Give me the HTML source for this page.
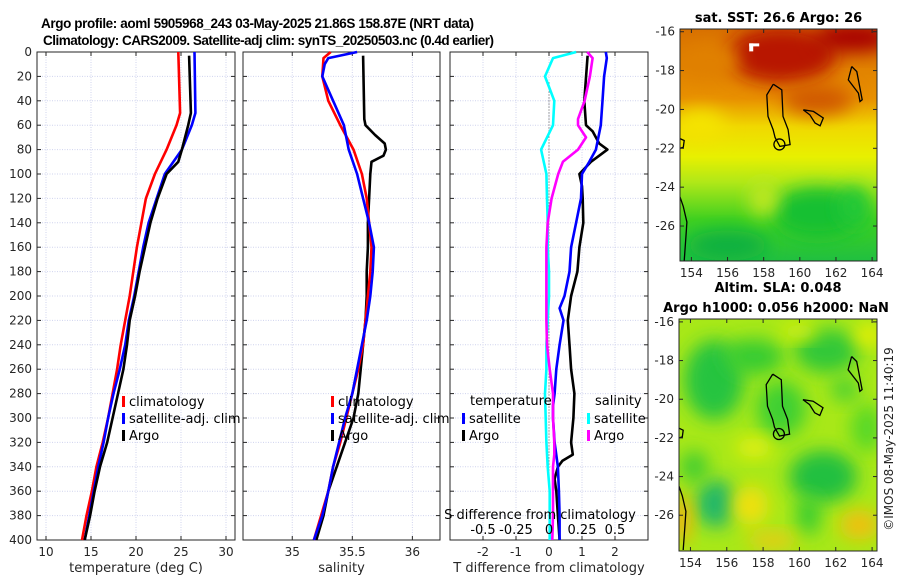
<!DOCTYPE html>
<html><head><meta charset="utf-8"><style>
body{margin:0;background:#fff}
svg{display:block;font-family:"DejaVu Sans","Liberation Sans",sans-serif}
.tk{font-size:12px;fill:#262626}
.tt{font-size:13px;font-weight:bold;fill:#000}
.ttl{font-size:13.5px;font-weight:bold;fill:#000;font-family:"Liberation Sans",sans-serif}
.lg{font-size:13px;fill:#000}
</style></head><body>
<svg id="fig" width="900" height="580" viewBox="0 0 900 580" xmlns="http://www.w3.org/2000/svg">
<defs>
<filter id="bl" x="-50%" y="-50%" width="200%" height="200%"><feGaussianBlur stdDeviation="9"/></filter>
<clipPath id="c1"><rect x="680" y="29" width="197" height="232"/></clipPath>
<clipPath id="c2"><rect x="679" y="319" width="198" height="232"/></clipPath>
<linearGradient id="sstg" x1="0" y1="0" x2="0" y2="1">
<stop offset="0" stop-color="#d87000"/><stop offset="0.3" stop-color="#e89000"/><stop offset="0.42" stop-color="#f0d800"/><stop offset="0.55" stop-color="#e8f000"/><stop offset="0.66" stop-color="#b0e818"/><stop offset="0.82" stop-color="#40d020"/><stop offset="1" stop-color="#20c040"/></linearGradient>
</defs>
<text class="ttl" x="41" y="28" textLength="433" lengthAdjust="spacing">Argo profile: aoml 5905968_243 03-May-2025 21.86S 158.87E (NRT data)</text>
<text class="ttl" x="43" y="45" textLength="451" lengthAdjust="spacing">Climatology: CARS2009. Satellite-adj clim: synTS_20250503.nc (0.4d earlier)</text>
<g id="panels"></g>
<g id="maps"></g>
<text class="tk" transform="translate(893,439) rotate(-90)" text-anchor="middle">©IMOS 08-May-2025 11:40:19</text>
</svg>
<script>
// ---- Panel 1: temperature ----
const climTDepth=[0,50,60,80,100,120,140,160,180,200,220,240,260,280,300,320,340,360,380,400];
const climT=[24.7,24.9,24.5,23.4,22.1,21.1,20.6,20.1,19.7,19.3,18.8,18.3,17.9,17.4,16.9,16.3,15.6,15.1,14.5,14.0];
const satT=[26.5,26.6,26.2,25.1,23.2,22.3,21.4,20.8,20.3,19.8,19.2,18.8,18.2,17.5,16.9,16.4,15.8,15.3,14.8,14.3];
const argoTDepth=[3,50,60,80,90,100,120,140,160,180,200,220,240,260,280,300,320,340,360,380,400];
const argoT=[25.9,26.1,25.8,25.1,24.7,23.4,22.4,21.6,21.0,20.4,19.9,19.3,19.0,18.6,18.0,17.4,16.8,16.0,15.4,14.9,14.3];
const tTicks=[10,15,20,25,30];
// ---- Panel 2: salinity ----
const climSDepth=[0,5,20,40,60,80,100,120,140,160,180,200,220,240,260,280,300,320,340,360,380,400];
const climS=[35.32,35.26,35.25,35.30,35.40,35.51,35.58,35.62,35.64,35.66,35.65,35.63,35.61,35.59,35.55,35.50,35.45,35.40,35.34,35.30,35.24,35.18];
const satSDepth=[0,5,10,20,40,60,80,100,120,140,160,180,200,220,240,260,280,300,320,340,360,380,400];
const satS=[35.54,35.30,35.27,35.25,35.34,35.43,35.47,35.54,35.59,35.64,35.68,35.67,35.65,35.62,35.58,35.54,35.50,35.44,35.39,35.34,35.30,35.25,35.18];
const argoSDepth=[3,55,60,68,75,80,85,90,100,140,160,180,200,220,240,260,280,300,320,340,360,380,400];
const argoS=[35.59,35.60,35.61,35.69,35.77,35.78,35.76,35.66,35.65,35.63,35.63,35.62,35.62,35.61,35.59,35.57,35.55,35.51,35.44,35.37,35.30,35.26,35.20];
const sTicks=[35,35.5,36];
// ---- Panel 3: differences ----
const sSatDDepth=[0,5,20,40,60,80,100,120,140,160,180,200,220,240,260,280,300,320,340,360,380,400];
const sSatD=[0.206,0.03,-0.03,0.04,0.03,-0.06,-0.02,-0.015,-0.01,-0.01,0,0,-0.01,-0.02,-0.02,-0.03,-0.025,-0.02,-0.01,0.005,0.005,0.005];
const sArgoDDepth=[0,5,20,40,55,60,70,80,90,100,120,140,160,180,200,220,240,260,280,300,320,330,340,360,380,400];
const sArgoD=[0.29,0.33,0.31,0.27,0.22,0.22,0.28,0.22,0.105,0.07,0.02,-0.01,-0.02,-0.02,-0.02,-0.02,-0.015,0.005,0.03,0.03,0.04,0.04,0.03,0.03,0.03,0.025];
const tSatDDepth=[0,5,20,40,60,80,90,100,120,140,160,180,200,210,220,240,260,280,290,300,320,340,360,380,400];
const tSatD=[1.72,1.75,1.67,1.62,1.57,1.42,1.22,1.0,0.97,0.82,0.67,0.62,0.47,0.32,0.44,0.32,0.22,0.17,0.12,0.12,0.17,0.27,0.3,0.32,0.32];
const tArgoDDepth=[3,40,60,65,75,80,85,90,100,110,120,140,160,180,200,220,240,260,280,300,320,330,335,340,350,360,380,400];
const tArgoD=[1.17,1.07,1.12,1.32,1.52,1.77,1.52,1.27,0.92,1.0,1.02,1.04,0.92,0.86,0.67,0.57,0.62,0.67,0.77,0.74,0.67,0.72,0.41,0.27,0.17,0.22,0.27,0.32];
const tdTicks=[-2,-1,0,1,2];
const sdTicks=[-0.5,-0.25,0,0.25,0.5];
const sdTickLabels=["-0.5","-0.25","0","0.25","0.5"];
const depthTicks=[0,20,40,60,80,100,120,140,160,180,200,220,240,260,280,300,320,340,360,380,400];

const NS="http://www.w3.org/2000/svg";
function mk(tag,at,parent){const e=document.createElementNS(NS,tag);for(const k in at)e.setAttribute(k,at[k]);parent.appendChild(e);return e;}
const Y0=52,Y1=540;
const yD=d=>Y0+(Y1-Y0)*d/400;
const P=document.getElementById('panels');
function lin(d0,d1,r0,r1){return v=>r0+(v-d0)*(r1-r0)/(d1-d0);}

function panel(name,x0,x1,xs,ticks,tickLabels,showDepth,xlabel){
  const g=mk('g',{},P);
  
  
  ticks.forEach(t=>{const l=mk('line',{x1:xs(t),x2:xs(t),y1:Y0,y2:Y1,stroke:'#cfd3ee','stroke-width':1,'stroke-dasharray':'1,1.5'},g);
    });
  depthTicks.forEach(d=>{const l=mk('line',{x1:x0,x2:x1,y1:yD(d),y2:yD(d),stroke:'#cfd3ee','stroke-width':1,'stroke-dasharray':'1,1.5'},g);
    });
  depthTicks.forEach(d=>{mk('line',{x1:x0,x2:x0+4,y1:yD(d),y2:yD(d),stroke:'#262626'},g);mk('line',{x1:x1-4,x2:x1,y1:yD(d),y2:yD(d),stroke:'#262626'},g);
    if(showDepth){const t=mk('text',{x:x0-5,y:yD(d)+4,'text-anchor':'end',class:'tk'},g);t.textContent=d;
      }});
  ticks.forEach((t,i)=>{mk('line',{x1:xs(t),x2:xs(t),y1:Y1,y2:Y1-4,stroke:'#262626'},g);mk('line',{x1:xs(t),x2:xs(t),y1:Y0,y2:Y0+4,stroke:'#262626'},g);
    const tx=mk('text',{x:xs(t),y:556,'text-anchor':'middle',class:'tk'},g);tx.textContent=tickLabels[i];
    });
  const r=mk('rect',{x:x0,y:Y0,width:x1-x0,height:Y1-Y0,fill:'none',stroke:'#262626','stroke-width':1},g);
  
  const xl=mk('text',{x:(x0+x1)/2,y:572,'text-anchor':'middle',class:'tk',style:'font-size:13px'},g);xl.textContent=xlabel;
  
  return g;
}
function series(g,name,depths,vals,xs,color){
  const pts=depths.map((d,i)=>xs(vals[i]).toFixed(1)+','+yD(d).toFixed(1)).join(' ');
  const p=mk('polyline',{points:pts,fill:'none',stroke:color,'stroke-width':2.6,'stroke-linejoin':'round'},g);
  
}
function legend(g,x,y,items){
  items.forEach((it,i)=>{
    if(it.c){const m=mk('rect',{x:x,y:y+i*17-9,width:3,height:11,fill:it.c},g);}
    const t=mk('text',{x:x+(it.c?7:0),y:y+i*17+1,class:'lg'},g);t.textContent=it.t;
    });
}
// panel 1
const xT=lin(9,31,37,235);
const g1=panel('temperature-panel',37,235,xT,tTicks,tTicks.map(String),true,'temperature (deg C)');
series(g1,'temperature-climatology-line',climTDepth,climT,xT,'#ff0000');
series(g1,'temperature-satellite-line',climTDepth,satT,xT,'#0000ff');
series(g1,'temperature-argo-line',argoTDepth,argoT,xT,'#000000');
legend(g1,122,405,[{t:'climatology',c:'#ff0000'},{t:'satellite-adj. clim',c:'#0000ff'},{t:'Argo',c:'#000'}]);
// panel 2
const xS=lin(34.59,36.23,243,440);
const g2=panel('salinity-panel',243,440,xS,sTicks,sTicks.map(String),false,'salinity');
series(g2,'salinity-argo-line',argoSDepth,argoS,xS,'#000000');
series(g2,'salinity-climatology-line',climSDepth,climS,xS,'#ff0000');
series(g2,'salinity-satellite-line',satSDepth,satS,xS,'#0000ff');
legend(g2,331,405,[{t:'climatology',c:'#ff0000'},{t:'satellite-adj. clim',c:'#0000ff'},{t:'Argo',c:'#000'}]);
// panel 3
const xTD=lin(-3,3,450,648), xSD=lin(-0.75,0.75,450,648);
const g3=panel('difference-panel',450,648,xTD,tdTicks,tdTicks.map(String),false,'T difference from climatology');
const zl=mk('line',{x1:xTD(0),x2:xTD(0),y1:yD(25),y2:Y1,stroke:'#555','stroke-width':1,'stroke-dasharray':'1,2'},g3);

series(g3,'s-diff-satellite-line',sSatDDepth,sSatD,xSD,'#00ffff');
series(g3,'t-diff-argo-line',tArgoDDepth,tArgoD,xTD,'#000000');
series(g3,'t-diff-satellite-line',tSatDDepth,tSatD,xTD,'#0000ff');
series(g3,'s-diff-argo-line',sArgoDDepth,sArgoD,xSD,'#ff00ff');
{const t=mk('text',{x:470,y:405,class:'lg'},g3);t.textContent='temperature';
 const s=mk('text',{x:595,y:405,class:'lg'},g3);s.textContent='salinity';}
legend(g3,462,422,[{t:'satellite',c:'#0000ff'},{t:'Argo',c:'#000'}]);
legend(g3,587,422,[{t:'satellite',c:'#00ffff'},{t:'Argo',c:'#ff00ff'}]);
{const t=mk('text',{x:540,y:519,'text-anchor':'middle',class:'lg'},g3);t.textContent='S difference from climatology';
 
 sdTicks.forEach((v,i)=>{const s=mk('text',{x:xSD(v),y:534,'text-anchor':'middle',class:'lg'},g3);s.textContent=sdTickLabels[i];
   });}

// ---- maps ----
const lonTicks=[154,156,158,160,162,164];
const latTicks=[-16,-18,-20,-22,-24,-26];
const M=document.getElementById('maps');
const islands=[
 [[158.53,-18.70],[158.17,-19.25],[158.24,-20.36],[158.52,-21.04],[158.63,-21.45],[158.9,-21.9],[159.46,-21.81],[159.35,-21.04],[159.07,-20.36],[159.0,-18.99],[158.53,-18.70]],
 [[160.19,-20.02],[160.75,-20.10],[161.30,-20.44],[161.12,-20.84],[160.84,-20.70],[160.56,-20.28],[160.19,-20.02]],
 [[162.87,-17.79],[162.68,-18.48],[163.24,-19.16],[163.33,-19.59],[163.45,-19.5],[163.15,-18.05],[162.87,-17.79]],
 [[153.37,-24.5],[153.55,-25.0],[153.75,-25.8],[153.7,-26.5],[153.6,-27.8]],
 [[153.37,-21.5],[153.6,-21.6],[153.55,-21.95],[153.37,-22.0]]
];
function map(name,x0,y0,w,h,latTop,latBot,bg,title1,title2,clip){
  const g=mk('g',{},M);
  const lx=lin(153.37,164.27,x0,x0+w), ly=lin(latTop,latBot,y0,y0+h);
  const cg=mk('g',{'clip-path':'url(#'+clip+')'},g);
  bg(cg,lx,ly,x0,y0,w,h);
  islands.forEach(isl=>{const p=mk('polyline',{points:isl.map(q=>lx(q[0]).toFixed(1)+','+ly(q[1]).toFixed(1)).join(' '),fill:'none',stroke:'#000','stroke-width':1.3},cg);
    });
  const c=mk('circle',{cx:lx(158.87),cy:ly(-21.8),r:5.5,fill:'none',stroke:'#000','stroke-width':1.3},cg);
  
  mk('rect',{x:x0,y:y0,width:w,height:h,fill:'none',stroke:'#262626'},g);
  lonTicks.forEach(v=>{mk('line',{x1:lx(v),x2:lx(v),y1:y0+h,y2:y0+h-4,stroke:'#262626'},g);mk('line',{x1:lx(v),x2:lx(v),y1:y0,y2:y0+4,stroke:'#262626'},g);
    const t=mk('text',{x:lx(v),y:y0+h+16,'text-anchor':'middle',class:'tk'},g);t.textContent=v;});
  latTicks.forEach(v=>{mk('line',{x1:x0,x2:x0+4,y1:ly(v),y2:ly(v),stroke:'#262626'},g);mk('line',{x1:x0+w-4,x2:x0+w,y1:ly(v),y2:ly(v),stroke:'#262626'},g);
    const t=mk('text',{x:x0-5,y:ly(v)+4,'text-anchor':'end',class:'tk'},g);t.textContent=v;});
  const t1=mk('text',{x:x0+w/2,y:title2?y0-27:y0-7,'text-anchor':'middle',class:'tt'},g);t1.textContent=title1;
  if(title2){const t2=mk('text',{x:x0+w/2-2,y:y0-7,'text-anchor':'middle',class:'tt'},g);t2.textContent=title2;}
}
function blob(g,cx,cy,rx,ry,col){mk('ellipse',{cx:cx,cy:cy,rx:rx,ry:ry,fill:col,filter:'url(#bl)'},g);}
map('sst-map',680,29,197,232,-15.86,-27.8,(g,lx,ly,x0,y0,w,h)=>{
  mk('rect',{x:x0,y:y0,width:w,height:h,fill:'url(#sstg)'},g);
  blob(g,lx(159),ly(-17.2),55,28,'#b81800');blob(g,lx(163),ly(-16.3),40,15,'#a80000');
  blob(g,lx(161),ly(-19.5),35,15,'#d05800');blob(g,lx(155),ly(-17.5),30,18,'#e08000');
  blob(g,lx(154.5),ly(-20.8),25,15,'#f4e400');
  blob(g,lx(161),ly(-25.3),45,25,'#18c030');blob(g,lx(156),ly(-27),40,15,'#10b040');
  blob(g,lx(158),ly(-24.6),14,18,'#c0e820');blob(g,lx(163),ly(-25),15,20,'#20c838');
  mk('rect',{x:lx(157.2),y:ly(-16.6),width:4,height:8,fill:'#fff'},g);mk('rect',{x:lx(157.2),y:ly(-16.6),width:10,height:3,fill:'#fff'},g);
},'sat. SST: 26.6 Argo: 26',null,'c1');
map('sla-map',679,319,198,232,-15.85,-27.85,(g,lx,ly,x0,y0,w,h)=>{
  mk('rect',{x:x0,y:y0,width:w,height:h,fill:'#a8e818'},g);
  blob(g,lx(155.3),ly(-19),30,40,'#28c440');blob(g,lx(157.5),ly(-17.8),30,18,'#38cc30');
  blob(g,lx(161.5),ly(-17.5),32,22,'#30c838');blob(g,lx(159),ly(-20.5),25,28,'#40d030');
  blob(g,lx(161.3),ly(-24),34,26,'#20c040');blob(g,lx(160.5),ly(-26),12,20,'#38cc30');
  blob(g,lx(155.4),ly(-25.4),20,24,'#20b868');blob(g,lx(154.2),ly(-23.5),14,16,'#40cc30');
  blob(g,lx(163.7),ly(-21.5),16,24,'#58d828');blob(g,lx(162.5),ly(-19.5),14,12,'#48d030');
  blob(g,lx(157.3),ly(-25.5),18,20,'#f0e010');blob(g,lx(157.5),ly(-22.5),18,10,'#e8f010');
  blob(g,lx(163.3),ly(-26.5),20,15,'#f0c010');blob(g,lx(158.5),ly(-27.3),25,8,'#f0c818');
  blob(g,lx(153.5),ly(-26.2),10,25,'#f0b010');blob(g,lx(163.8),ly(-16.7),14,10,'#f0f000');
  blob(g,lx(160),ly(-16.5),18,8,'#d8f010');
},'Altim. SLA: 0.048','Argo h1000: 0.056 h2000: NaN','c2');
</script>
</body></html>
